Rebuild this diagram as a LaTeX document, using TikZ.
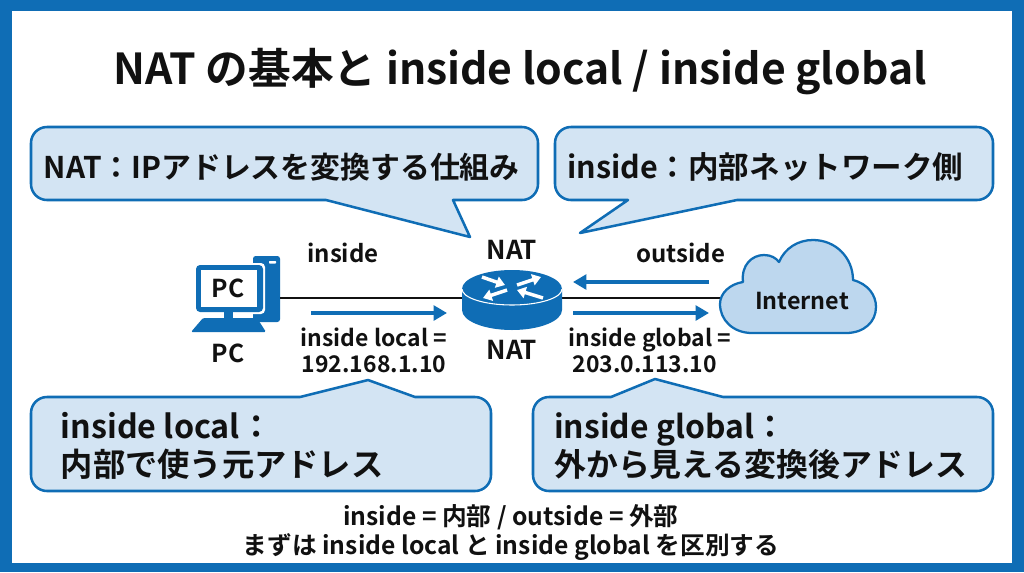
\documentclass[tikz,border=0pt]{standalone}
\usepackage{fontspec}
\setmainfont{Noto Sans CJK JP}[BoldFont={Noto Sans CJK JP Bold}]
\usetikzlibrary{arrows.meta}
\definecolor{nblue}{HTML}{0F6DB5}
\definecolor{nfill}{HTML}{D3E4F3}
\definecolor{cfill}{HTML}{BDD7EE}
\definecolor{ink}{HTML}{111111}
\tikzset{
  x=0.75pt,y=-0.75pt,
  callout/.style={draw=nblue,line width=1.9pt,fill=nfill,line join=round},
  calltext/.style={font=\bfseries\fontsize{24.2}{29}\selectfont,text=ink,anchor=west,align=left,inner sep=0pt},
  lbl/.style={font=\bfseries\fontsize{17.2}{19.5}\selectfont,text=ink,align=center,inner sep=0pt},
  wire/.style={draw=ink,line width=1.5pt},
  flow/.style={draw=nblue,line width=2.6pt,-{Triangle[length=10pt,width=11pt]}},
  ghost/.style={inner sep=0pt,minimum width=#1},
  rarrow/.style={white,line width=2.6pt,-{Triangle[length=6.5pt,width=8.5pt]}},
}
\begin{document}
\begin{tikzpicture}
\useasboundingbox (0,0) rectangle (1024,572);
\fill[nblue] (0,0) rectangle (1024,572);
\fill[white] (12,11) rectangle (1012,563);
\node[font=\bfseries\fontsize{32}{40}\selectfont,text=ink,inner sep=0pt] (title) at (520,71.5) {NAT の基本と inside local / inside global};
% callouts
\draw[callout] (47,127) -- (522,127) arc[start angle=270,end angle=360,radius=16] -- (538,184) arc[start angle=0,end angle=90,radius=16] -- (453,200) -- (470,237) -- (326,200) -- (47,200) arc[start angle=90,end angle=180,radius=16] -- (31,143) arc[start angle=180,end angle=270,radius=16] -- cycle;
\draw[callout] (571,127) -- (977,127) arc[start angle=270,end angle=360,radius=16] -- (993,184) arc[start angle=0,end angle=90,radius=16] -- (737,200) -- (580,233) -- (628,200) -- (571,200) arc[start angle=90,end angle=180,radius=16] -- (555,143) arc[start angle=180,end angle=270,radius=16] -- cycle;
\draw[callout] (47,397) -- (300,397) -- (368,380) -- (415,397) -- (475,397) arc[start angle=270,end angle=360,radius=16] -- (491,475) arc[start angle=0,end angle=90,radius=16] -- (47,491) arc[start angle=90,end angle=180,radius=16] -- (31,413) arc[start angle=180,end angle=270,radius=16] -- cycle;
\draw[callout] (549,397) -- (611,397) -- (655,379) -- (723,397) -- (977,397) arc[start angle=270,end angle=360,radius=16] -- (993,475) arc[start angle=0,end angle=90,radius=16] -- (549,491) arc[start angle=90,end angle=180,radius=16] -- (533,413) arc[start angle=180,end angle=270,radius=16] -- cycle;
\node[calltext,font=\bfseries\fontsize{22.4}{28}\selectfont] (c1) at (43.5,167) {NAT：IPアドレスを変換する仕組み};
\node[calltext,font=\bfseries\fontsize{22.9}{28}\selectfont] (c2) at (567,167) {inside：内部ネットワーク側};
\node[calltext] (c3) at (60.5,446) {inside local：\\内部で使う元アドレス};
\node[calltext,font=\bfseries\fontsize{23.9}{29}\selectfont] (c4) at (554,446) {inside global：\\外から見える変換後アドレス};
% anchors for connectors
\node[ghost=75pt,minimum height=45pt] (router) at (512,298) {};
\node[ghost=117pt,minimum height=50pt] (cloud) at (798,298) {};
\node[ghost=21pt,minimum height=49pt] (tower) at (266,298) {};
% PC
\fill[nblue,rounded corners=2pt] (253,256) rectangle (280,322);
\fill[white,rounded corners=.5pt] (269,261) rectangle (276,263.5);
\fill[white,rounded corners=3pt] (194,263) rectangle (265,314);
\fill[nblue,rounded corners=3pt] (196,265) rectangle (263,312);
\fill[white] (201,270) rectangle (257,307);
\fill[nblue] (224,312) rectangle (233,319);
\fill[nblue,rounded corners=1pt] (203,318) -- (257,318) -- (266,332) -- (191,332) -- cycle;
\node[font=\bfseries\fontsize{18.5}{22}\selectfont,text=ink,inner sep=0pt] (pcin) at (228,288) {PC};
\node[font=\bfseries\fontsize{18.5}{22}\selectfont,text=ink,inner sep=0pt] (pclab) at (228,353) {PC};
% connectors
\draw[wire] (tower.east) -- (router.west);
\draw[wire] (router.east) -- (cloud.west);
% router
\fill[nblue] (462,289) -- (462,310) arc[start angle=180,end angle=0,x radius=50,y radius=20] -- (562,289) arc[start angle=0,end angle=-180,x radius=50,y radius=19] -- cycle;
\draw[white,line width=0.8pt] (462,289) arc[start angle=180,end angle=0,x radius=50,y radius=16];
\draw[rarrow] (482,277) -- (505,285);
\draw[rarrow] (517,285) -- (541,277);
\draw[rarrow] (507,290) -- (483,298);
\draw[rarrow] (543,298) -- (517,290);
\node[font=\bfseries\fontsize{19.5}{22}\selectfont,text=ink,inner sep=0pt] (natt) at (512,250) {NAT};
\node[font=\bfseries\fontsize{19.5}{22}\selectfont,text=ink,inner sep=0pt] (natb) at (512,350) {NAT};
% cloud
\draw[draw=nblue,line width=1.7pt,fill=cfill,line join=round] (752,333) .. controls (733,333) and (720,320) .. (720,304) .. controls (720,293) and (730,284) .. (743,282) .. controls (741,265) and (752,255) .. (764,255) .. controls (771,255) and (776,258) .. (779,262) .. controls (785,248) and (798,240) .. (813,240) .. controls (836,240) and (853,258) .. (853,280) .. controls (868,284) and (876,295) .. (876,307) .. controls (876,322) and (864,333) .. (846,333) -- cycle;
\node[font=\bfseries\fontsize{17.5}{22}\selectfont,text=ink,inner sep=0pt] (inet) at (802,301) {Internet};
% flows
\coordinate (f1a) at (311,313); \coordinate (f1b) at (447,313);
\coordinate (f2a) at (573,313); \coordinate (f2b) at (709,313);
\coordinate (f3a) at (709,282); \coordinate (f3b) at (573,282);
\draw[flow] (f1a) -- (f1b);
\draw[flow] (f2a) -- (f2b);
\draw[flow] (f3a) -- (f3b);
% labels
\node[lbl,font=\bfseries\fontsize{18}{20}\selectfont] (ins) at (343,253) {inside};
\node[lbl,font=\bfseries\fontsize{18}{20}\selectfont] (out) at (681,253) {outside};
\node[lbl] (il) at (374,350) {inside local =\\192.168.1.10};
\node[lbl] (ig) at (650,350) {{\fontsize{17.2}{19.5}\selectfont inside global =}\\203.0.113.10\hspace*{8pt}};
\node[lbl,font=\bfseries\fontsize{18.5}{21.75}\selectfont] (foot) at (511,532.5) {inside = 内部 / outside = 外部\\まずは inside local と inside global を区別する};
\end{tikzpicture}
\end{document}
